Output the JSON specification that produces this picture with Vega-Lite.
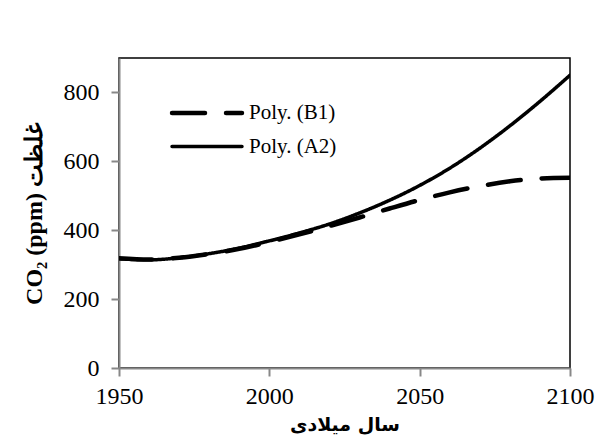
{
  "$schema": "https://vega.github.io/schema/vega-lite/v6.json",
  "width": 451,
  "height": 310,
  "autosize": {"type": "none"},
  "padding": {"left": 119, "top": 58, "right": 38, "bottom": 78},
  "background": "white",
  "config": {
    "view": {"stroke": "#000000", "strokeWidth": 1.5},
    "font": "Liberation Serif",
    "axis": {
      "grid": false,
      "domainColor": "#888888",
      "domainWidth": 2,
      "tickColor": "#888888",
      "tickWidth": 2,
      "tickSize": 8,
      "labelColor": "#000000",
      "labelFlush": false,
      "labelOverlap": false,
      "titleColor": "#000000"
    }
  },
  "data": {
    "values": [
      {"year": 1950, "value": 317, "series": "Poly. (A2)"},
      {"year": 1960, "value": 314, "series": "Poly. (A2)"},
      {"year": 1970, "value": 320, "series": "Poly. (A2)"},
      {"year": 1980, "value": 332, "series": "Poly. (A2)"},
      {"year": 1990, "value": 348, "series": "Poly. (A2)"},
      {"year": 2000, "value": 369, "series": "Poly. (A2)"},
      {"year": 2010, "value": 392, "series": "Poly. (A2)"},
      {"year": 2020, "value": 418, "series": "Poly. (A2)"},
      {"year": 2030, "value": 450, "series": "Poly. (A2)"},
      {"year": 2040, "value": 487, "series": "Poly. (A2)"},
      {"year": 2050, "value": 530, "series": "Poly. (A2)"},
      {"year": 2060, "value": 580, "series": "Poly. (A2)"},
      {"year": 2070, "value": 638, "series": "Poly. (A2)"},
      {"year": 2080, "value": 703, "series": "Poly. (A2)"},
      {"year": 2090, "value": 774, "series": "Poly. (A2)"},
      {"year": 2100, "value": 850, "series": "Poly. (A2)"},
      {"year": 1950, "value": 319, "series": "Poly. (B1)"},
      {"year": 1960, "value": 315, "series": "Poly. (B1)"},
      {"year": 1970, "value": 320, "series": "Poly. (B1)"},
      {"year": 1980, "value": 331, "series": "Poly. (B1)"},
      {"year": 1990, "value": 346, "series": "Poly. (B1)"},
      {"year": 2000, "value": 366, "series": "Poly. (B1)"},
      {"year": 2010, "value": 388, "series": "Poly. (B1)"},
      {"year": 2020, "value": 412, "series": "Poly. (B1)"},
      {"year": 2030, "value": 437, "series": "Poly. (B1)"},
      {"year": 2040, "value": 463, "series": "Poly. (B1)"},
      {"year": 2050, "value": 488, "series": "Poly. (B1)"},
      {"year": 2060, "value": 510, "series": "Poly. (B1)"},
      {"year": 2070, "value": 528, "series": "Poly. (B1)"},
      {"year": 2080, "value": 542, "series": "Poly. (B1)"},
      {"year": 2090, "value": 550, "series": "Poly. (B1)"},
      {"year": 2100, "value": 552, "series": "Poly. (B1)"}
    ]
  },
  "mark": {"type": "line", "interpolate": "monotone", "color": "#000000", "strokeCap": "round", "clip": true},
  "encoding": {
    "x": {
      "field": "year",
      "type": "quantitative",
      "scale": {"domain": [1950, 2100], "nice": false, "zero": false},
      "axis": {
        "values": [1950, 2000, 2050, 2100],
        "format": "d",
        "labelFont": "Liberation Serif",
        "labelFontSize": 24,
        "labelPadding": 8,
        "title": "سال میلادی",
        "titleFont": "DejaVu Sans",
        "titleFontWeight": "bold",
        "titleFontSize": 19,
        "titlePadding": 7
      }
    },
    "y": {
      "field": "value",
      "type": "quantitative",
      "scale": {"domain": [0, 900], "nice": false},
      "axis": {
        "values": [0, 200, 400, 600, 800],
        "labelFont": "Liberation Serif",
        "labelFontSize": 24,
        "labelPadding": 12,
        "title": "CO₂ (ppm) غلظت",
        "titleFont": "Liberation Serif",
        "titleFontWeight": "bold",
        "titleFontSize": 24,
        "titlePadding": 17
      }
    },
    "strokeDash": {
      "field": "series",
      "type": "nominal",
      "scale": {"domain": ["Poly. (B1)", "Poly. (A2)"], "range": [[33, 21], [1, 0]]},
      "legend": {
        "orient": "none",
        "legendX": 74,
        "legendY": 41,
        "title": null,
        "symbolType": "M-3,0H3",
        "symbolSize": 544,
        "symbolStrokeWidth": 4,
        "symbolStrokeColor": "#000000",
        "labelFont": "Liberation Serif",
        "labelFontSize": 21,
        "labelColor": "#000000",
        "labelOffset": 28,
        "rowPadding": 10,
        "padding": 0,
        "encode": {"symbols": {"update": {"strokeCap": {"value": "round"}, "strokeWidth": {"value": 4}}}}
      }
    },
    "strokeWidth": {
      "field": "series",
      "type": "nominal",
      "scale": {"domain": ["Poly. (B1)", "Poly. (A2)"], "range": [4.5, 3.5]},
      "legend": null
    }
  }
}
